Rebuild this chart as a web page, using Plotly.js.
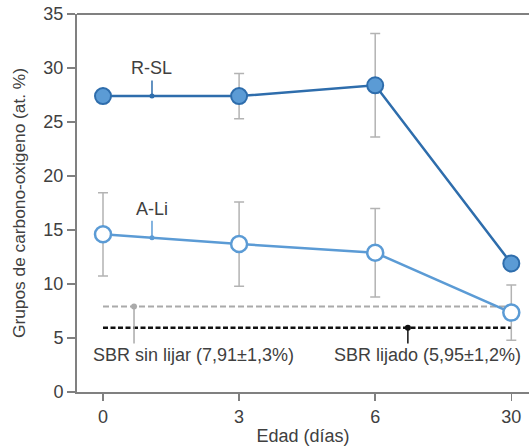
<!DOCTYPE html>
<html>
<head>
<meta charset="utf-8">
<script src="https://cdn.plot.ly/plotly-3.0.1.min.js"></script>
<style>html,body{margin:0;padding:0;background:#fff;}#chart{width:529px;height:446px;}</style>
</head>
<body>
<div id="chart"></div>
<script>
// Categories (days) used as tick labels
var days = ['0', '3', '6', '30'];
// Series R-SL
var rslValues = [27.4, 27.4, 28.4, 11.9];
var rslErrors = [0, 2.1, 4.8, 0];
// Series A-Li
var aliValues = [14.6, 13.7, 12.9, 7.35];
var aliErrors = [3.85, 3.9, 4.1, 2.55];
// Reference levels
var sbrSinLijar = 7.91;
var sbrLijado = 5.95;
var pointerBottom = 4.5;
// Label pointers: [x position (category index), y at line, y top of pointer]
var rslPointer = [0.36, 27.4, 28.85];
var aliPointer = [0.36, 14.28, 15.85];
var sinLijarPointerX = 0.228;
var lijadoPointerX = 2.24;

var xIdx = days.map(function(d, i){ return i; });
var txt = '#404040';
var font = 'Liberation Sans, Arial, sans-serif';
var fs = 18;

var traces = [
  {
    x: xIdx, y: days.map(function(){return sbrSinLijar;}),
    mode: 'lines', line: {color: '#aaaaaa', width: 2, dash: '6px,3px'},
    hoverinfo: 'skip', showlegend: false
  },
  {
    x: xIdx, y: days.map(function(){return sbrLijado;}),
    mode: 'lines', line: {color: '#111111', width: 2.5, dash: '5px,2.5px'},
    hoverinfo: 'skip', showlegend: false
  },
  // pointer lines
  {x: [rslPointer[0], rslPointer[0]], y: [rslPointer[1], rslPointer[2]], mode: 'lines', line: {color: '#2e6dac', width: 1.5}, showlegend: false, hoverinfo: 'skip'},
  {x: [aliPointer[0], aliPointer[0]], y: [aliPointer[1], aliPointer[2]], mode: 'lines', line: {color: '#5b9bd5', width: 1.5}, showlegend: false, hoverinfo: 'skip'},
  {x: [sinLijarPointerX, sinLijarPointerX], y: [sbrSinLijar, pointerBottom], mode: 'lines', line: {color: '#aaaaaa', width: 1.5}, showlegend: false, hoverinfo: 'skip'},
  {x: [lijadoPointerX, lijadoPointerX], y: [sbrLijado, pointerBottom], mode: 'lines', line: {color: '#111111', width: 1.5}, showlegend: false, hoverinfo: 'skip'},
  {
    x: xIdx, y: aliValues, mode: 'lines+markers',
    line: {color: '#5b9bd5', width: 2.5},
    marker: {size: 16, color: '#ffffff', line: {color: '#5b9bd5', width: 2.5}},
    error_y: {type: 'data', array: aliErrors, visible: true, color: '#b3b3b3', thickness: 1.5, width: 5},
    showlegend: false
  },
  {
    x: xIdx, y: rslValues, mode: 'lines+markers',
    line: {color: '#2e6dac', width: 2.5},
    marker: {size: 16, color: '#5b9bd5', line: {color: '#2e6dac', width: 2}},
    error_y: {type: 'data', array: rslErrors, visible: true, color: '#b3b3b3', thickness: 1.5, width: 5},
    showlegend: false
  },
  // pointer dots
  {x: [rslPointer[0]], y: [rslPointer[1]], mode: 'markers', marker: {size: 5, color: '#2e6dac'}, showlegend: false, hoverinfo: 'skip'},
  {x: [aliPointer[0]], y: [aliPointer[1]], mode: 'markers', marker: {size: 5, color: '#5b9bd5'}, showlegend: false, hoverinfo: 'skip'},
  {x: [sinLijarPointerX], y: [sbrSinLijar], mode: 'markers', marker: {size: 6, color: '#aaaaaa'}, showlegend: false, hoverinfo: 'skip'},
  {x: [lijadoPointerX], y: [sbrLijado], mode: 'markers', marker: {size: 6, color: '#111111'}, showlegend: false, hoverinfo: 'skip'}
];

var layout = {
  width: 529, height: 446,
  margin: {l: 77, r: 0, t: 14, b: 54},
  paper_bgcolor: '#ffffff', plot_bgcolor: '#ffffff',
  font: {family: font, size: fs, color: txt},
  xaxis: {
    range: [-0.191, 3.13],
    tickvals: xIdx, ticktext: days,
    showgrid: false, zeroline: false,
    showline: true, linecolor: '#808080', linewidth: 2,
    ticks: 'outside', ticklen: 7, tickwidth: 1.5, tickcolor: '#808080',
    tickfont: {family: font, size: fs, color: txt},
    title: {text: 'Edad (días)', font: {family: font, size: fs, color: txt}, standoff: 4}
  },
  yaxis: {
    range: [0, 35], tickvals: [0, 5, 10, 15, 20, 25, 30, 35],
    showgrid: false, zeroline: false,
    showline: true, linecolor: '#808080', linewidth: 2,
    ticks: 'outside', ticklen: 8, tickwidth: 1.5, tickcolor: '#808080',
    tickfont: {family: font, size: fs, color: txt},
    title: {text: 'Grupos de carbono-oxigeno (at. %)', font: {family: font, size: 17.3, color: txt}, standoff: 13}
  },
  shapes: [
    {type: 'line', xref: 'paper', yref: 'paper', x0: 0, x1: 1, y0: 1, y1: 1, line: {color: '#808080', width: 2}}
  ],
  annotations: [
    {x: rslPointer[0], y: rslPointer[2], text: 'R-SL', showarrow: false, yanchor: 'bottom', yshift: 0, font: {family: font, size: fs, color: txt}},
    {x: aliPointer[0], y: aliPointer[2], text: 'A-Li', showarrow: false, yanchor: 'bottom', yshift: 0, font: {family: font, size: fs, color: txt}},
    {x: sinLijarPointerX, y: pointerBottom, text: 'SBR sin lijar (7,91±1,3%)', showarrow: false, xanchor: 'center', xshift: 59, yanchor: 'top', yshift: 0, font: {family: font, size: fs, color: txt}},
    {x: lijadoPointerX, y: pointerBottom, text: 'SBR lijado (5,95±1,2%)', showarrow: false, xanchor: 'center', xshift: 20, yanchor: 'top', yshift: 0, font: {family: font, size: fs, color: txt}}
  ]
};

Plotly.newPlot('chart', traces, layout, {displayModeBar: false, staticPlot: true});
</script>
</body>
</html>
